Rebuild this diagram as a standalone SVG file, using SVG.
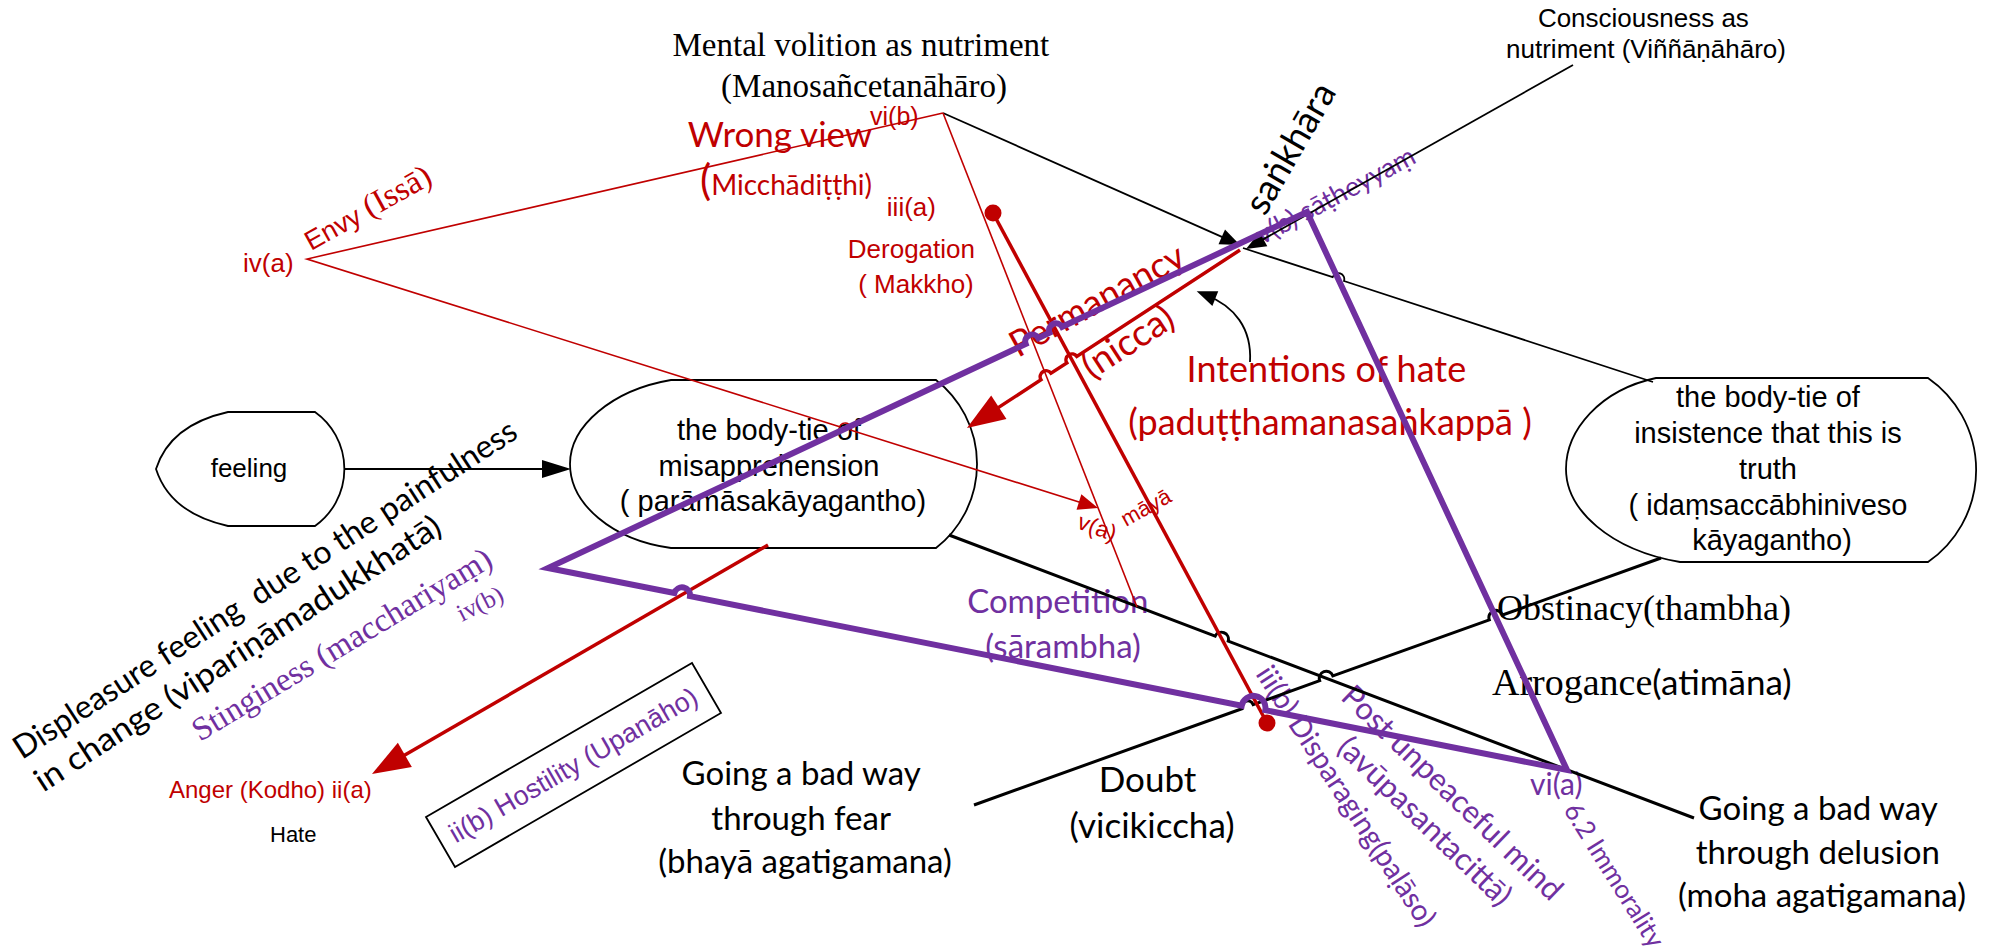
<svg xmlns="http://www.w3.org/2000/svg" width="1990" height="951" viewBox="0 0 1990 951">
  <style>
    .sans { font-family: "Liberation Sans", Arial, sans-serif; }
    .serif { font-family: "Liberation Serif", "Times New Roman", serif; }
    .cal { font-family: Lato, "Open Sans", sans-serif; }
    .red { fill: #C00000; }
    .pur { fill: #7030A0; }
    .blk { fill: #000; }
    .node { fill: #fff; stroke: #000; stroke-width: 1.8; }
    .mid { text-anchor: middle; }
    .l-pur { fill: none; stroke: #7030A0; stroke-width: 6; stroke-linejoin: miter; stroke-miterlimit: 10; }
    .l-red { fill: none; stroke: #C00000; stroke-width: 3.5; }
    .l-red-thin { fill: none; stroke: #C00000; stroke-width: 1.6; }
    .l-blk { fill: none; stroke: #000; stroke-width: 3; }
    .l-blk-thin { fill: none; stroke: #000; stroke-width: 1.8; }
  </style>
  <defs>
    <marker id="ahB" markerUnits="userSpaceOnUse" markerWidth="20" markerHeight="16" refX="10" refY="8" orient="auto" overflow="visible">
      <path d="M0,0 L20,8 L0,16 Z" fill="#000"/>
    </marker>
    <marker id="ahF" markerUnits="userSpaceOnUse" markerWidth="29" markerHeight="18" refX="14.5" refY="9" orient="auto" overflow="visible">
      <path d="M0,0 L29,9 L0,18 Z" fill="#000"/>
    </marker>
    <marker id="ahRs" markerUnits="userSpaceOnUse" markerWidth="20" markerHeight="16" refX="10" refY="8" orient="auto" overflow="visible">
      <path d="M0,0 L20,8 L0,16 Z" fill="#C00000"/>
    </marker>
    <marker id="ahRb" markerUnits="userSpaceOnUse" markerWidth="38" markerHeight="28" refX="19" refY="14" orient="auto" overflow="visible">
      <path d="M0,0 L38,14 L0,28 Z" fill="#C00000"/>
    </marker>
  </defs>

  <!-- nodes -->
  <g id="node-feeling">
    <path class="node" d="M228,412 L315,412 A70,70 0 0 1 315,526 L228,526 Q170,513 156,469 Q170,425 228,412 Z"/>
    <text class="sans mid blk" x="249" y="477" font-size="26">feeling</text>
  </g>
  <g id="node-misapprehension">
    <path class="node" d="M671,380 L936,380 A106.5,106.5 0 0 1 936,548 L671,548 C612,540 570,504 570,464 C570,426 612,390 671,380 Z"/>
    <text class="sans mid blk" font-size="29">
      <tspan x="773" y="440">the body-tie of</tspan>
      <tspan x="773" y="476">misapprehension</tspan>
      <tspan x="773" y="511">( parāmāsakāyagantho)</tspan>
    </text>
  </g>
  <g id="node-insistence">
    <path class="node" d="M1656,378 L1928,378 A112,112 0 0 1 1928,562 L1680,562 C1610,550 1566,510 1566,469 C1566,430 1600,390 1656,378 Z"/>
    <text class="sans mid blk" font-size="29">
      <tspan x="1772" y="407">the body-tie of</tspan>
      <tspan x="1772" y="443">insistence that this is</tspan>
      <tspan x="1772" y="479">truth</tspan>
      <tspan x="1772" y="515">( idaṃsaccābhiniveso</tspan>
      <tspan x="1772" y="550">kāyagantho)</tspan>
    </text>
  </g>
  <g id="node-hostility">
    <path d="M426,817 L692,663 L721,713 L455,867 Z" fill="none" stroke="#000" stroke-width="1.8"/>
    <text class="sans mid pur" font-size="27" transform="translate(578,773) rotate(-30)">ii(b) Hostility (Upanāho)</text>
  </g>

  <!-- labels -->
  <g id="labels">
    <text class="serif mid blk" font-size="33">
      <tspan x="865" y="56">Mental volition as nutriment</tspan>
      <tspan x="864" y="97">(Manosañcetanāhāro)</tspan>
    </text>
    <text class="sans mid blk" font-size="26">
      <tspan x="1647" y="27">Consciousness as</tspan>
      <tspan x="1646" y="58">nutriment (Viññāṇāhāro)</tspan>
    </text>

    <text class="cal mid red" x="780" y="147" font-size="35">Wrong view</text>
    <text class="cal red" x="700" y="195"><tspan font-size="42">(</tspan><tspan font-size="28">Micchādiṭṭhi)</tspan></text>
    <text class="sans red" x="870" y="125" font-size="25">vi(b)</text>
    <text class="sans red" x="243" y="272" font-size="26">iv(a)</text>
    <text class="red" transform="translate(311,251) rotate(-29)"><tspan class="sans" font-size="27">Envy </tspan><tspan class="serif" font-size="33">(Issā)</tspan></text>

    <text class="sans mid red" font-size="26">
      <tspan x="915" y="216">iii(a)</tspan>
      <tspan x="915" y="258">Derogation</tspan>
      <tspan x="916" y="293">( Makkho)</tspan>
    </text>

    <text class="cal blk" font-size="37" transform="translate(1265,217) rotate(-60)">saṅkhāra</text>
    <text class="cal pur" font-size="27" transform="translate(1262,245) rotate(-28)">v(b)  sāṭheyyaṃ</text>
    <text class="cal red" font-size="36" transform="translate(1018,358) rotate(-29)">Permanancy</text>
    <text class="cal red" font-size="37" transform="translate(1092,380) rotate(-33)">(nicca)</text>

    <text class="cal mid red" font-size="36">
      <tspan x="1331" y="382">Intentions of hate</tspan>
      <tspan x="1330" y="435">(paduṭṭhamanasaṅkappā )</tspan>
    </text>

    <text class="sans red" font-size="23" transform="translate(1076,528) rotate(20)">v(a)</text>
    <text class="sans red" font-size="22" transform="translate(1126,527) rotate(-29)">māyā</text>

    <text class="cal blk" font-size="32" xml:space="preserve" transform="translate(22,760) rotate(-33)">Displeasure feeling  due to the painfulness</text>
    <text class="cal blk" font-size="32" textLength="478" lengthAdjust="spacingAndGlyphs" transform="translate(43.2,792.7) rotate(-33)">in change (vipariṇāmadukkhatā)</text>

    <text class="serif pur" font-size="33" transform="translate(200,742) rotate(-31)">Stinginess (macchariyaṃ)</text>
    <text class="serif pur" font-size="25" transform="translate(462,622) rotate(-27)">iv(b)</text>

    <text class="sans red" x="169" y="798" font-size="24">Anger (Kodho) ii(a)</text>
    <text class="sans blk" x="270" y="842" font-size="22">Hate</text>

    <text class="cal mid pur" font-size="33">
      <tspan x="1062" y="613">Competition</tspan>
      <tspan x="1063" y="658">(sārambha)</tspan>
    </text>

    <text class="serif blk" x="1497" y="620" font-size="36">Obstinacy(thambha)</text>
    <text class="blk" x="1492" y="695"><tspan class="serif" font-size="38">Arrogance</tspan><tspan class="cal" font-size="35">(atimāna)</tspan></text>

    <text class="cal mid blk" font-size="33">
      <tspan x="805" y="785">Going a bad way</tspan>
      <tspan x="805" y="830">through fear</tspan>
      <tspan x="805" y="873">(bhayā agatigamana)</tspan>
    </text>
    <text class="cal mid blk" font-size="35">
      <tspan x="1152" y="792">Doubt</tspan>
      <tspan x="1152" y="838">(vicikiccha)</tspan>
    </text>
    <text class="cal mid blk" font-size="33">
      <tspan x="1822" y="820">Going a bad way</tspan>
      <tspan x="1822" y="864">through delusion</tspan>
      <tspan x="1822" y="907">(moha agatigamana)</tspan>
    </text>

    <text class="cal pur" x="1530" y="795" font-size="30">vi(a)</text>
    <text class="cal pur" font-size="26" transform="translate(1563,810) rotate(58)">6.2 Immorality</text>
    <text class="cal pur" font-size="29" transform="translate(1255,674) rotate(57)">iii(b) Disparaging(paḷāso)</text>
    <text class="cal mid pur" font-size="31" transform="translate(1445,800.5) rotate(44)"><tspan x="0" y="0">Post unpeaceful mind</tspan><tspan x="0" y="39.5">(avūpasantacittā)</tspan></text>
  </g>

  <!-- connectors -->
  <g id="connectors">
    <!-- black -->
    <path class="l-blk-thin" d="M344,469 L556.5,469" stroke-width="2" marker-end="url(#ahF)"/>
    <path class="l-blk-thin" d="M943,113 L1230.9,240.9" marker-end="url(#ahB)"/>
    <path class="l-blk-thin" d="M1243,248 L1332.6,277.2 A6,6 0 0 1 1344.0,281.0 L1653,382"/>
    <path class="l-blk-thin" d="M1573,65 L1254.7,244.1" marker-end="url(#ahB)"/>
    <path class="l-blk-thin" d="M1250,362 C1252,328 1234,306 1206,295" stroke-width="2.5" marker-end="url(#ahB)"/>
    <path class="l-blk" d="M949,535 L1215.2,636.1 A7,7 0 0 1 1228.2,641.1 L1694,818"/>
    <path class="l-blk" d="M974,805 L1241.9,708.7 A6,6 0 0 1 1253.2,704.7 L1319.7,680.7 A7,7 0 0 1 1332.9,675.9 L1489.3,619.8 A7,7 0 0 1 1502.5,615.0 L1661,558"/>

    <!-- red -->
    <path class="l-red-thin" d="M943,113 L307,259 L839.7,426.7 A6,6 0 0 1 851.1,430.3 L1088.5,505" marker-end="url(#ahRs)"/>
    <path class="l-red-thin" d="M943,113 L1137,607"/>
    <path class="l-red" d="M993,213 L1267,723"/>
    <circle cx="993" cy="213" r="8.5" fill="#C00000"/>
    <circle cx="1267" cy="723" r="8.5" fill="#C00000"/>
    <path class="l-red" d="M1240,250 L1076.8,356.4 A6,6 0 0 0 1066.8,363.0 L1051.0,373.2 A6,6 0 0 0 1041.0,379.8 L982.9,417.6" marker-end="url(#ahRb)"/>
    <path class="l-red" d="M768,545 L388.4,764.5" marker-end="url(#ahRb)"/>

    <!-- purple -->
    <path class="l-pur" d="M1307,212 L1062.1,326.8 A7,7 0 0 0 1049.5,332.8 L1038.3,338.0 A7,7 0 0 0 1025.7,344.0 L548,568 L674.4,593.0 A8,8 0 0 1 690.0,596.2 L1241.7,705.6 A12,12 0 0 1 1265.3,710.2 L1567,770 Z"/>
  </g>
</svg>
